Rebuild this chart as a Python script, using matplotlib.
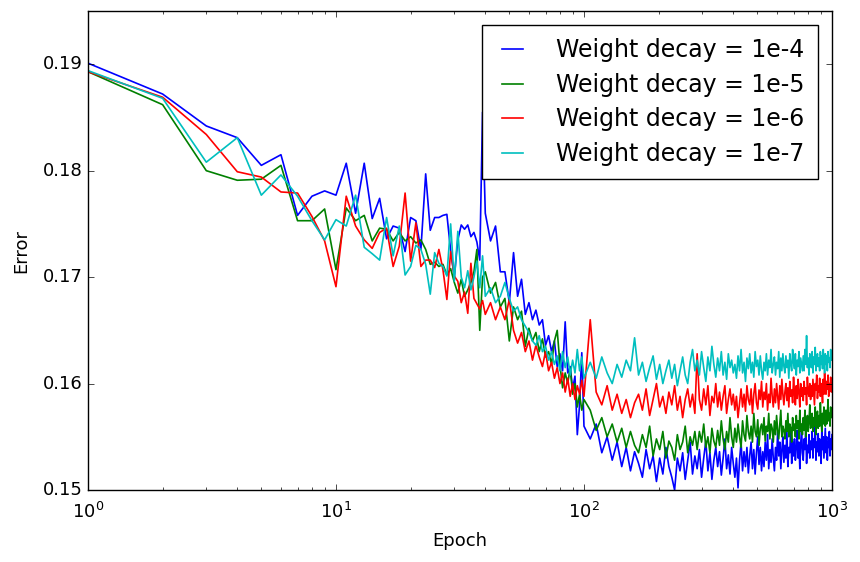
import matplotlib
matplotlib.use('Agg')
import matplotlib.pyplot as plt
import numpy as np

plt.style.use('classic')
plt.rcParams.update({
    'figure.facecolor': 'white',
    'savefig.facecolor': 'white',
    'font.size': 13,
    'xtick.labelsize': 13,
    'ytick.labelsize': 13,
    'axes.labelsize': 13,
    'xtick.major.pad': 8.5,
})

# epochs: every epoch up to 40, then sampled
epochs = list(range(1, 41)) + list(range(42, 101, 2)) + list(range(106, 1001, 6))

err_1e4 = [
    0.1901, 0.1872, 0.1842, 0.1831, 0.1805, 0.1815, 0.1758, 0.1776, 0.1781, 0.1777,
    0.1807, 0.1760, 0.1807, 0.1755, 0.1774, 0.1736, 0.1748, 0.1746, 0.1724, 0.1756,
    0.1753, 0.1726, 0.1797, 0.1744, 0.1756, 0.1756, 0.1758, 0.1759, 0.1725, 0.1700,
    0.1735, 0.1749, 0.1745, 0.1749, 0.1738, 0.1742, 0.1733, 0.1716, 0.1855, 0.1760,
    0.1734, 0.1748, 0.1705, 0.1705, 0.1676, 0.1723, 0.1682, 0.1698, 0.1665, 0.1676,
    0.1660, 0.1669, 0.1655, 0.1660, 0.1636, 0.1645, 0.1630, 0.1640, 0.1616, 0.1628,
    0.1612, 0.1658, 0.1610, 0.1616, 0.1595, 0.1607, 0.1552, 0.1580, 0.1629, 0.1560,
    0.1548, 0.1562, 0.1535, 0.1550, 0.1528, 0.1545, 0.1522, 0.1540, 0.1518, 0.1536,
    0.1525, 0.1512, 0.1538, 0.1520, 0.1532, 0.1508, 0.1530, 0.1515, 0.1540, 0.1522,
    0.1512, 0.1500, 0.1530, 0.1518, 0.1535, 0.1510, 0.1528, 0.1545, 0.1515, 0.1532,
    0.1520, 0.1538, 0.1512, 0.1530, 0.1546, 0.1518, 0.1535, 0.1510, 0.1528, 0.1540,
    0.1522, 0.1536, 0.1514, 0.1530, 0.1548, 0.1520, 0.1533, 0.1515, 0.1540, 0.1525,
    0.1512, 0.1530, 0.1502, 0.1528, 0.1545, 0.1518, 0.1536, 0.1522, 0.1540, 0.1516,
    0.1532, 0.1545, 0.1520, 0.1538, 0.1515, 0.1535, 0.1550, 0.1524, 0.1540, 0.1518,
    0.1536, 0.1522, 0.1545, 0.1528, 0.1552, 0.1520, 0.1538, 0.1526, 0.1548, 0.1530,
    0.1518, 0.1540, 0.1528, 0.1555, 0.1532, 0.1545, 0.1520, 0.1538, 0.1550, 0.1526,
    0.1542, 0.1530, 0.1555, 0.1522, 0.1540, 0.1535, 0.1558, 0.1525, 0.1545, 0.1532,
    0.1548, 0.1528, 0.1540, 0.1556, 0.1530, 0.1545, 0.1520, 0.1542, 0.1560, 0.1535,
    0.1528, 0.1548, 0.1538, 0.1556, 0.1525, 0.1542, 0.1535, 0.1552, 0.1530, 0.1546,
    0.1538, 0.1555, 0.1530, 0.1548, 0.1540, 0.1562, 0.1528, 0.1545, 0.1536, 0.1553,
    0.1532, 0.1548, 0.1540, 0.1525, 0.1556, 0.1538, 0.1550, 0.1530, 0.1545, 0.1558,
    0.1535, 0.1550, 0.1528, 0.1545, 0.1540, 0.1555, 0.1532, 0.1548, 0.1538, 0.1552,
]

err_1e5 = [
    0.1893, 0.1862, 0.1800, 0.1791, 0.1792, 0.1805, 0.1753, 0.1753, 0.1764, 0.1707,
    0.1765, 0.1753, 0.1758, 0.1734, 0.1746, 0.1745, 0.1734, 0.1742, 0.1734, 0.1738,
    0.1732, 0.1735, 0.1726, 0.1712, 0.1714, 0.1710, 0.1712, 0.1702, 0.1708, 0.1695,
    0.1685, 0.1698, 0.1682, 0.1688, 0.1695, 0.1705, 0.1726, 0.1650, 0.1700, 0.1705,
    0.1685, 0.1695, 0.1672, 0.1680, 0.1640, 0.1672, 0.1660, 0.1668, 0.1635, 0.1652,
    0.1640, 0.1648, 0.1630, 0.1642, 0.1625, 0.1630, 0.1618, 0.1640, 0.1650, 0.1618,
    0.1596, 0.1610, 0.1600, 0.1615, 0.1590, 0.1600, 0.1578, 0.1590, 0.1575, 0.1585,
    0.1575, 0.1556, 0.1568, 0.1550, 0.1562, 0.1545, 0.1558, 0.1540, 0.1555, 0.1542,
    0.1535, 0.1552, 0.1540, 0.1560, 0.1532, 0.1548, 0.1538, 0.1555, 0.1530, 0.1546,
    0.1540, 0.1528, 0.1552, 0.1538, 0.1545, 0.1560, 0.1535, 0.1550, 0.1542, 0.1555,
    0.1538, 0.1555, 0.1545, 0.1562, 0.1540, 0.1550, 0.1535, 0.1558, 0.1546, 0.1540,
    0.1556, 0.1542, 0.1565, 0.1548, 0.1538, 0.1555, 0.1545, 0.1568, 0.1550, 0.1540,
    0.1558, 0.1545, 0.1562, 0.1550, 0.1540, 0.1565, 0.1552, 0.1546, 0.1570, 0.1555,
    0.1548, 0.1560, 0.1545, 0.1572, 0.1555, 0.1550, 0.1566, 0.1542, 0.1558, 0.1562,
    0.1552, 0.1568, 0.1546, 0.1560, 0.1555, 0.1572, 0.1548, 0.1562, 0.1558, 0.1545,
    0.1565, 0.1552, 0.1570, 0.1556, 0.1548, 0.1562, 0.1575, 0.1550, 0.1560, 0.1556,
    0.1548, 0.1565, 0.1555, 0.1572, 0.1550, 0.1562, 0.1558, 0.1545, 0.1568, 0.1556,
    0.1562, 0.1550, 0.1570, 0.1558, 0.1565, 0.1548, 0.1575, 0.1555, 0.1562, 0.1552,
    0.1568, 0.1556, 0.1575, 0.1550, 0.1562, 0.1570, 0.1555, 0.1565, 0.1580, 0.1558,
    0.1562, 0.1572, 0.1555, 0.1568, 0.1560, 0.1578, 0.1552, 0.1566, 0.1574, 0.1558,
    0.1570, 0.1560, 0.1582, 0.1565, 0.1555, 0.1572, 0.1562, 0.1578, 0.1568, 0.1560,
    0.1575, 0.1562, 0.1570, 0.1585, 0.1565, 0.1572, 0.1560, 0.1578, 0.1568, 0.1574,
]

err_1e6 = [
    0.1893, 0.1869, 0.1834, 0.1799, 0.1794, 0.1780, 0.1779, 0.1757, 0.1734, 0.1691,
    0.1776, 0.1748, 0.1735, 0.1727, 0.1742, 0.1746, 0.1710, 0.1729, 0.1779, 0.1715,
    0.1751, 0.1710, 0.1716, 0.1716, 0.1709, 0.1726, 0.1707, 0.1679, 0.1724, 0.1701,
    0.1696, 0.1676, 0.1686, 0.1666, 0.1713, 0.1680, 0.1675, 0.1670, 0.1678, 0.1665,
    0.1676, 0.1660, 0.1672, 0.1660, 0.1679, 0.1650, 0.1638, 0.1648, 0.1630, 0.1640,
    0.1622, 0.1636, 0.1625, 0.1616, 0.1630, 0.1612, 0.1620, 0.1605, 0.1615, 0.1600,
    0.1610, 0.1592, 0.1605, 0.1588, 0.1600, 0.1585, 0.1598, 0.1590, 0.1603, 0.1588,
    0.1660, 0.1592, 0.1580, 0.1598, 0.1575, 0.1590, 0.1572, 0.1585, 0.1568, 0.1582,
    0.1590, 0.1575, 0.1595, 0.1570, 0.1585, 0.1600, 0.1578, 0.1588, 0.1572, 0.1592,
    0.1580, 0.1598, 0.1575, 0.1588, 0.1568, 0.1585, 0.1595, 0.1578, 0.1590, 0.1572,
    0.1628, 0.1585, 0.1575, 0.1595, 0.1580, 0.1598, 0.1570, 0.1588, 0.1582, 0.1600,
    0.1578, 0.1592, 0.1575, 0.1588, 0.1598, 0.1572, 0.1585, 0.1595, 0.1580, 0.1590,
    0.1575, 0.1588, 0.1568, 0.1582, 0.1595, 0.1578, 0.1590, 0.1574, 0.1598, 0.1585,
    0.1580, 0.1595, 0.1572, 0.1590, 0.1600, 0.1582, 0.1576, 0.1594, 0.1585, 0.1602,
    0.1578, 0.1592, 0.1585, 0.1600, 0.1575, 0.1590, 0.1582, 0.1605, 0.1588, 0.1578,
    0.1595, 0.1582, 0.1600, 0.1588, 0.1576, 0.1598, 0.1585, 0.1604, 0.1590, 0.1580,
    0.1592, 0.1600, 0.1584, 0.1596, 0.1578, 0.1602, 0.1588, 0.1594, 0.1582, 0.1606,
    0.1590, 0.1580, 0.1598, 0.1586, 0.1604, 0.1592, 0.1578, 0.1600, 0.1588, 0.1596,
    0.1584, 0.1602, 0.1590, 0.1596, 0.1580, 0.1606, 0.1592, 0.1588, 0.1600, 0.1585,
    0.1598, 0.1588, 0.1604, 0.1592, 0.1580, 0.1600, 0.1594, 0.1608, 0.1586, 0.1598,
    0.1592, 0.1605, 0.1588, 0.1600, 0.1595, 0.1582, 0.1604, 0.1590, 0.1610, 0.1596,
    0.1590, 0.1602, 0.1595, 0.1608, 0.1588, 0.1600, 0.1594, 0.1606, 0.1592, 0.1600,
]

err_1e7 = [
    0.1894, 0.1868, 0.1808, 0.1831, 0.1777, 0.1796, 0.1776, 0.1753, 0.1735, 0.1754,
    0.1748, 0.1777, 0.1728, 0.1722, 0.1716, 0.1756, 0.1720, 0.1748, 0.1702, 0.1710,
    0.1730, 0.1726, 0.1712, 0.1684, 0.1723, 0.1713, 0.1710, 0.1701, 0.1750, 0.1696,
    0.1743, 0.1700, 0.1690, 0.1706, 0.1688, 0.1700, 0.1715, 0.1690, 0.1720, 0.1682,
    0.1690, 0.1676, 0.1682, 0.1695, 0.1680, 0.1668, 0.1672, 0.1660, 0.1654, 0.1648,
    0.1640, 0.1636, 0.1645, 0.1630, 0.1635, 0.1622, 0.1630, 0.1618, 0.1626, 0.1612,
    0.1630, 0.1615, 0.1625, 0.1608, 0.1622, 0.1610, 0.1632, 0.1612, 0.1625, 0.1605,
    0.1620, 0.1605, 0.1625, 0.1610, 0.1600, 0.1618, 0.1606, 0.1622, 0.1612, 0.1643,
    0.1608, 0.1620, 0.1602, 0.1615, 0.1626, 0.1604, 0.1618, 0.1600, 0.1612, 0.1622,
    0.1605, 0.1618, 0.1598, 0.1612, 0.1625, 0.1608, 0.1600, 0.1620, 0.1632, 0.1612,
    0.1622, 0.1608, 0.1630, 0.1615, 0.1602, 0.1625, 0.1612, 0.1635, 0.1618, 0.1606,
    0.1624, 0.1612, 0.1630, 0.1608, 0.1620, 0.1604, 0.1628, 0.1615, 0.1622, 0.1610,
    0.1618, 0.1605, 0.1626, 0.1612, 0.1632, 0.1610, 0.1620, 0.1602, 0.1624, 0.1614,
    0.1628, 0.1610, 0.1620, 0.1606, 0.1630, 0.1616, 0.1622, 0.1608, 0.1626, 0.1612,
    0.1604, 0.1620, 0.1612, 0.1628, 0.1608, 0.1622, 0.1615, 0.1632, 0.1610, 0.1618,
    0.1625, 0.1608, 0.1620, 0.1614, 0.1630, 0.1606, 0.1624, 0.1612, 0.1628, 0.1616,
    0.1610, 0.1626, 0.1615, 0.1622, 0.1605, 0.1628, 0.1618, 0.1612, 0.1632, 0.1620,
    0.1614, 0.1628, 0.1608, 0.1622, 0.1616, 0.1630, 0.1610, 0.1624, 0.1618, 0.1612,
    0.1626, 0.1612, 0.1632, 0.1618, 0.1645, 0.1615, 0.1624, 0.1608, 0.1628, 0.1620,
    0.1615, 0.1630, 0.1610, 0.1625, 0.1618, 0.1634, 0.1612, 0.1622, 0.1628, 0.1616,
    0.1624, 0.1612, 0.1630, 0.1618, 0.1626, 0.1614, 0.1632, 0.1620, 0.1610, 0.1628,
    0.1618, 0.1626, 0.1612, 0.1630, 0.1620, 0.1624, 0.1615, 0.1632, 0.1622, 0.1626,
]

labels = ['Weight decay = 1e-4', 'Weight decay = 1e-5',
          'Weight decay = 1e-6', 'Weight decay = 1e-7']
colors = ['b', 'g', 'r', 'c']

fig = plt.figure(figsize=(8.6, 5.62), dpi=100)
ax = fig.add_axes([0.1023, 0.1281, 0.8651, 0.8523])

for err, lab, col in zip([err_1e4, err_1e5, err_1e6, err_1e7], labels, colors):
    ax.plot(epochs, err, color=col, label=lab, lw=1.2)

ax.set_xscale('log')
ax.set_xlim(1, 1000)
ax.set_ylim(0.15, 0.195)
ax.set_yticks([0.15, 0.16, 0.17, 0.18, 0.19])
ax.set_yticklabels(['0.15', '0.16', '0.17', '0.18', '0.19'])
ax.set_xlabel('Epoch', labelpad=7)
ax.set_ylabel('Error', labelpad=9)
ax.legend(loc='upper right', fontsize=17, labelspacing=0.45,
          handlelength=1.5, handletextpad=1.1, borderpad=0.55,
          borderaxespad=0.6)

fig.savefig('out.png', dpi=100)
